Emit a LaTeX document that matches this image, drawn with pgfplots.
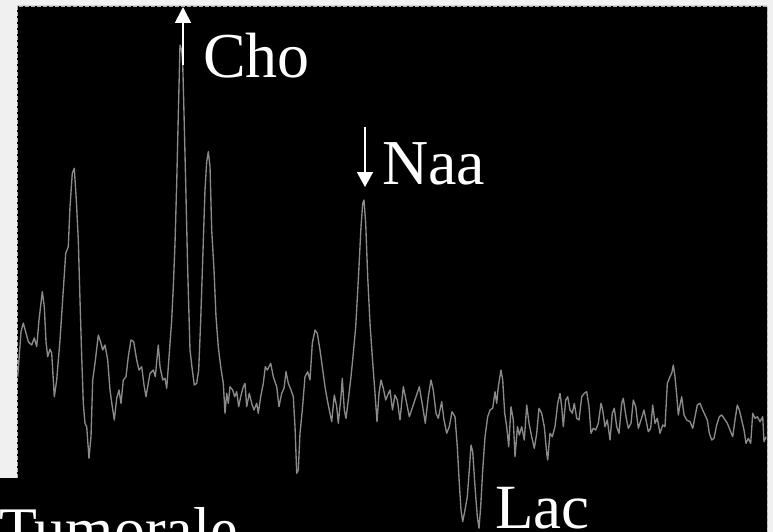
\documentclass[border=0pt]{standalone}
\usepackage{pgfplots}
\pgfplotsset{compat=1.18}
\usepackage{fontspec}
\setmainfont{Liberation Serif}
\usetikzlibrary{arrows.meta}
\definecolor{bggray}{HTML}{F0F0F0}
\definecolor{trace}{HTML}{8A8A8A}
\definecolor{dashgray}{HTML}{B4B4B4}
\begin{document}
\begin{tikzpicture}
\begin{axis}[
  at={(0,0)}, anchor=south west,
  width=773pt, height=532pt, scale only axis,
  xmin=0, xmax=773, ymin=0, ymax=532, y dir=reverse,
  hide axis, clip=false,
]
% backgrounds
\fill[bggray] (axis cs:0,0) rectangle (axis cs:773,532);
\fill[black] (axis cs:17,6) -- (axis cs:767,6) -- (axis cs:767,532) -- (axis cs:0,532) -- (axis cs:0,478) -- (axis cs:17,478) -- cycle;
\draw[dashgray, line width=0.8pt, dash pattern=on 4pt off 2pt] (axis cs:17,478) -- (axis cs:17,6) -- (axis cs:767,6) -- (axis cs:767,532);
% spectrum
\addplot[trace, line width=1.35pt, line join=round] coordinates {
(17.7,376.7)(21,331.7)(23.3,323)(28.3,341.7)(31.7,345)(34.3,338)(36.7,346.7)(39,320)(42.3,291.7)(44.3,306.7)(46,341.7)(47.7,356.7)(50,349.3)(51.7,353)(54.3,396.7)(56.7,380)(60,340)(63.3,290)(65.7,253.3)(68.3,246.7)(70,206.7)(72.3,173.3)(74.3,168.3)(76.3,200)(78.3,240)(80,300)(81.7,356.7)(83.3,403.3)(85,423.3)(86.7,426.7)(89,458.3)(91,436.7)(92.7,380)(95,363.3)(98.3,335)(101,343.3)(102.7,350)(105,345)(107.7,360)(110,390)(112.3,406.7)(114.3,420)(116.7,398.3)(119,390)(121,403.3)(123.3,380)(126,376.7)(128.3,356.7)(131,340)(133.7,341.7)(136.7,360)(139,370)(141.7,366.7)(144,385)(146,396.7)(150,373.3)(153.3,370)(155.3,376.7)(157.3,355)(158.3,345)(160,366.7)(162.7,380)(165,378.3)(166.7,388.3)(169.3,353.3)(171.7,320)(173.3,286.7)(175,243.3)(176.7,183.3)(178.3,115)(180,45)(181.7,50)(182.7,63.3)(184,113.3)(185.7,183.3)(187.7,270)(190,350)(192.3,370)(194.3,385)(196.7,383.3)(198.7,370)(200.7,320)(202.7,260)(205,190)(206.7,161.7)(208.3,151.7)(210,166.7)(211.7,230)(214,270)(216,316.7)(218.3,346.7)(220.7,366.7)(223.3,383.3)(225,413.3)(226.7,393.3)(228.3,403.3)(230,386.7)(232.7,390)(234.7,396.7)(236.7,391.7)(238.7,406.7)(240.7,396.7)(243.3,386.7)(245,383.3)(246.7,406.7)(249.3,393.3)(251.7,403.3)(254,410)(256.7,403.3)(258.3,413.3)(260.7,396.7)(263.3,383.3)(265.3,366.7)(267.3,370)(270.7,363.3)(273.3,376.7)(276.7,386.7)(279,406.7)(281.7,393.3)(284,388.3)(286,371.7)(288.3,383.3)(291,390)(293.3,396.7)(295,426.7)(296.7,473.3)(298.3,470)(300,433.3)(302.3,410)(305,376.7)(307.7,371.7)(310,380)(312.3,343.3)(315,330)(317.3,333.3)(320,350)(322.3,366.7)(325,386.7)(327.3,400)(330,413.3)(331.7,421.7)(334.3,395)(336.7,406.7)(338.3,423.3)(341,396.7)(342.3,378.3)(344.3,410)(346,418.3)(348.3,400)(351,376.7)(353.3,353.3)(355.7,326.7)(358.3,280)(361,226.7)(362.7,203.3)(364,200)(365.7,223.3)(367.7,276.7)(370,323.3)(372.3,356.7)(375,393.3)(377,421.7)(379,393.3)(381,380)(383.3,388.3)(385.7,400)(387.7,395)(390,390)(392.5,410)(395,395)(397.3,400)(400,420)(403.3,386.7)(406,400)(409.3,416.7)(412.7,406.7)(416,396.7)(419.3,386.7)(422.7,406.7)(425.3,423.3)(428.3,396.7)(431,380)(433.3,390)(436,413.3)(438.3,418.3)(441.7,401.7)(444,420)(446.7,433.3)(449.3,426.7)(452,411.7)(455,416.7)(457.3,446.7)(459.3,483.3)(461,510)(462.7,521.7)(465,510)(467.3,496.7)(469.3,470)(471,445)(472.7,451.7)(475,486.7)(477.3,516.7)(479,528.3)(480.7,506.7)(482.7,470)(485,436.7)(487.7,416.7)(490,410)(492.7,408.3)(495,391.7)(496.7,403.3)(498.3,386.7)(501,370)(502.7,380)(504.7,413.3)(506.7,426.7)(508.7,446.7)(511,406.7)(513.3,420)(515,456.7)(517.5,426.7)(519.3,435)(521.7,426.7)(524.3,440)(526.7,405)(529,423.3)(531.7,436.7)(534.3,448.3)(536.7,433.3)(539,408.3)(541.7,413.3)(544.3,426.7)(546.7,453.3)(547.7,460)(550,433.3)(552.3,436.7)(555,426.7)(557.7,403.3)(560,393.3)(561.7,406.7)(563.3,426.7)(565.7,400)(567.7,396.7)(570,410)(572.3,413.3)(574.3,403.3)(576.7,418.3)(579,420)(581.7,396.7)(584.3,393.3)(586.7,391.7)(589,406.7)(591,433.3)(593.3,428.3)(595.7,430)(598.3,423.3)(601,403.3)(602.7,410)(605,426.7)(607.3,420)(610,440)(612.3,413.3)(614.3,408.3)(616.7,426.7)(619,433.3)(621.7,403.3)(623.3,398.3)(626,416.7)(628.3,428.3)(631,423.3)(633.3,400)(635.7,406.7)(638.3,428.3)(641,420)(644,410)(646,420)(648.3,431.7)(650.7,428.3)(652.7,405)(655,423.3)(657.3,418.3)(660,433.3)(662.7,425)(665,426.7)(667.3,383.3)(670,376.7)(671.7,373.3)(673.3,365)(675,376.7)(676.7,395)(678.3,415)(680,405)(681.7,396.7)(684,415)(686.7,420)(690,421.7)(692.7,428.3)(695,416.7)(697.3,405)(700,403.3)(702.7,410)(705,415)(707.3,420)(709.3,433.3)(711.7,440)(714,438.3)(716.7,425)(719.3,416.7)(721.7,415)(724,418.3)(727.3,423.3)(730,430)(732.7,436.7)(735,420)(737.3,405)(739.3,410)(741.7,420)(744,430)(746,443.3)(748.3,438.3)(750.7,443.3)(752.7,413.3)(755,418.3)(757.3,416.7)(760,421.7)(762.7,416.7)(764,441.7)(766,436.7)
};
% arrows
\draw[white, line width=1.6pt, -{Triangle[width=16pt,length=16pt]}] (axis cs:183,65) -- (axis cs:183,7);
\draw[white, line width=1.6pt, -{Triangle[width=16pt,length=15pt]}] (axis cs:365,127) -- (axis cs:365,187);
% labels
\node[white, anchor=base west, inner sep=0pt, font=\fontsize{64}{64}\selectfont] at (axis cs:203,78) {Cho};
\node[white, anchor=base west, inner sep=0pt, font=\fontsize{64}{64}\selectfont] at (axis cs:382,184) {Naa};
\node[white, anchor=base west, inner sep=0pt, font=\fontsize{63}{63}\selectfont] at (axis cs:495,528) {Lac};
\node[white, anchor=base west, inner sep=0pt, font=\fontsize{62}{62}\selectfont] at (axis cs:-1,550) {Tumorale};
\end{axis}
\pgfresetboundingbox
\useasboundingbox (0,0) rectangle (773pt,532pt);
\end{tikzpicture}
\end{document}
